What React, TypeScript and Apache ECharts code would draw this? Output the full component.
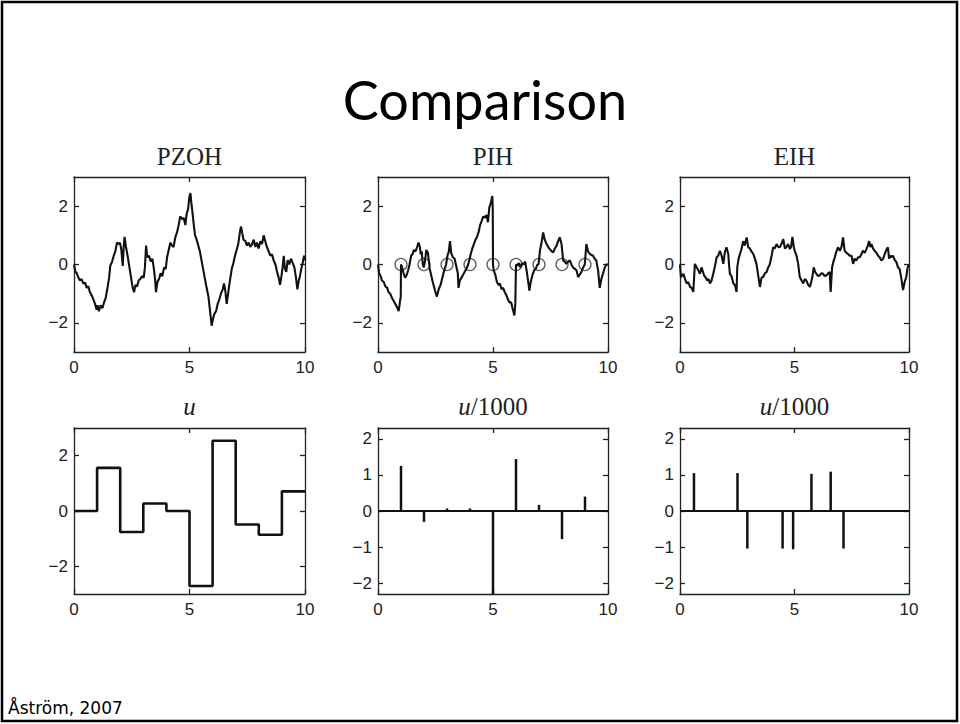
import React, { useEffect, useRef } from "react";
import * as echarts from "echarts";

// ---- Top row: sampled-output traces (x = time, y = output) ----
const pzohX = [0.00,0.06,0.12,0.19,0.26,0.33,0.40,0.48,0.55,0.62,0.69,0.76,0.84,0.91,0.98,1.02,1.08,1.15,1.23,1.30,1.37,1.44,1.52,1.57,1.65,1.72,1.79,1.86,1.93,1.99,2.05,2.11,2.15,2.19,2.25,2.32,2.40,2.47,2.54,2.60,2.66,2.73,2.80,2.87,2.94,3.02,3.07,3.12,3.17,3.25,3.32,3.39,3.45,3.51,3.55,3.61,3.68,3.75,3.82,3.90,3.97,4.03,4.10,4.17,4.24,4.31,4.39,4.46,4.53,4.60,4.68,4.75,4.82,4.88,4.94,4.99,5.04,5.08,5.12,5.18,5.24,5.31,5.38,5.45,5.53,5.60,5.67,5.74,5.82,5.89,5.96,6.02,6.07,6.15,6.22,6.29,6.36,6.44,6.49,6.55,6.61,6.68,6.75,6.83,6.90,6.97,7.04,7.11,7.19,7.23,7.29,7.34,7.42,7.49,7.56,7.63,7.71,7.78,7.85,7.92,7.99,8.07,8.14,8.21,8.28,8.35,8.43,8.50,8.57,8.64,8.72,8.79,8.86,8.92,8.98,9.03,9.08,9.13,9.19,9.25,9.32,9.39,9.47,9.54,9.61,9.67,9.73,9.78,9.84,9.90,9.96,10.0];
const pzohY = [0.0,-0.25,-0.3,-0.45,-0.55,-0.5,-0.65,-0.62,-0.8,-0.75,-0.95,-1.05,-1.2,-1.35,-1.55,-1.4,-1.6,-1.4,-1.5,-1.3,-1.15,-0.85,-0.45,-0.05,0.1,0.3,0.45,0.75,0.7,0.75,0.5,-0.05,0.6,0.95,0.6,0.3,-0.1,-0.45,-0.8,-0.95,-0.7,-0.75,-0.55,-0.5,-0.4,-0.45,-0.1,0.65,0.25,0.3,0.1,0.2,-0.1,-0.5,-0.95,-0.6,-0.5,-0.3,-0.4,-0.1,-0.15,0.25,0.5,0.75,0.65,0.6,0.95,1.1,1.35,1.65,1.55,1.6,1.35,1.75,1.9,2.3,2.45,2.1,1.85,1.4,1.0,0.85,0.65,0.45,0.1,-0.2,-0.5,-0.8,-1.1,-1.6,-2.1,-1.85,-1.7,-1.6,-1.35,-1.2,-1.0,-0.85,-0.65,-0.9,-1.35,-0.95,-0.55,-0.15,0.05,0.3,0.5,0.7,1.15,1.3,1.05,0.85,0.8,0.65,0.75,0.6,0.7,0.85,0.6,0.75,0.55,0.8,0.7,1.0,0.8,0.6,0.45,0.3,0.35,0.15,0.0,-0.25,-0.45,-0.7,-0.4,-0.1,0.3,-0.15,-0.25,0.15,0.0,0.2,0.05,-0.1,-0.45,-0.85,-0.55,-0.4,-0.15,0.05,0.3,0.15];

const pihX = [0.00,0.05,0.12,0.17,0.25,0.32,0.40,0.46,0.53,0.61,0.68,0.75,0.82,0.90,0.96,0.99,1.00,1.05,1.11,1.18,1.25,1.31,1.37,1.44,1.50,1.56,1.63,1.70,1.76,1.82,1.86,1.90,1.95,1.99,2.04,2.10,2.17,2.25,2.38,2.48,2.56,2.64,2.72,2.80,2.88,2.96,3.02,3.08,3.13,3.18,3.25,3.33,3.40,3.47,3.50,3.56,3.63,3.70,3.77,3.84,3.92,3.97,4.03,4.10,4.17,4.24,4.31,4.37,4.44,4.51,4.58,4.65,4.72,4.78,4.84,4.90,4.97,4.99,5.00,5.03,5.10,5.17,5.24,5.30,5.37,5.44,5.51,5.58,5.65,5.72,5.79,5.85,5.93,5.97,6.00,6.05,6.12,6.19,6.26,6.33,6.40,6.47,6.55,6.58,6.64,6.72,6.79,6.86,6.93,6.98,7.04,7.10,7.18,7.25,7.33,7.40,7.47,7.55,7.62,7.69,7.76,7.83,7.90,7.98,8.05,8.12,8.19,8.27,8.34,8.41,8.48,8.56,8.63,8.70,8.77,8.84,8.92,8.99,9.06,9.13,9.21,9.28,9.35,9.42,9.49,9.57,9.64,9.71,9.78,9.86,9.93,10.0];
const pihY = [0.0,-0.3,-0.4,-0.55,-0.6,-0.75,-0.8,-0.95,-1.0,-1.15,-1.25,-1.35,-1.45,-1.6,-1.25,-1.1,0.0,-0.1,-0.3,-0.45,-0.35,-0.2,0.0,0.3,0.35,0.5,0.45,0.6,0.75,0.6,0.35,0.45,0.0,-0.1,0.1,0.5,0.4,-0.15,-0.6,-0.9,-1.1,-0.85,-0.7,-0.45,-0.2,0.0,0.3,0.45,0.8,0.4,0.25,0.2,-0.05,-0.3,-0.8,-0.55,-0.45,-0.35,-0.25,-0.15,0.0,0.15,0.35,0.55,0.7,0.85,0.95,1.1,1.35,1.5,1.65,1.6,1.7,1.45,1.95,2.1,2.35,1.9,0.0,-0.2,-0.35,-0.6,-0.7,-0.65,-0.85,-0.8,-0.95,-1.05,-1.2,-1.3,-1.3,-1.5,-1.75,-1.35,0.0,-0.05,0.05,-0.1,0.05,0.0,0.1,-0.25,-0.7,-0.9,-0.6,-0.35,-0.2,-0.15,0.0,0.0,0.47,0.7,1.1,0.85,0.7,0.6,0.53,0.45,0.42,0.55,0.64,0.8,0.93,0.7,0.14,0.1,0.02,0.1,0.14,0.0,-0.1,-0.15,-0.2,-0.43,-0.35,-0.26,-0.1,0.0,0.7,0.45,0.36,0.33,0.3,0.2,0.14,-0.2,-0.8,-0.5,-0.32,-0.1,0.0,0.0];

const eihX = [0.00,0.04,0.15,0.22,0.29,0.36,0.44,0.51,0.58,0.65,0.73,0.80,0.87,0.94,1.05,1.12,1.19,1.25,1.31,1.38,1.45,1.53,1.60,1.67,1.74,1.82,1.89,1.96,2.03,2.11,2.14,2.18,2.25,2.33,2.40,2.47,2.50,2.56,2.62,2.69,2.76,2.83,2.91,2.98,3.05,3.12,3.20,3.27,3.34,3.42,3.49,3.56,3.63,3.71,3.78,3.85,3.92,4.00,4.07,4.14,4.22,4.29,4.36,4.43,4.51,4.58,4.65,4.72,4.80,4.85,4.91,4.97,5.01,5.09,5.16,5.23,5.31,5.38,5.45,5.52,5.60,5.67,5.73,5.78,5.84,5.90,5.96,6.03,6.10,6.18,6.25,6.32,6.40,6.47,6.54,6.58,6.64,6.70,6.76,6.83,6.90,6.98,7.05,7.12,7.19,7.27,7.34,7.41,7.49,7.56,7.63,7.70,7.78,7.85,7.92,7.99,8.07,8.14,8.20,8.26,8.31,8.36,8.43,8.50,8.58,8.65,8.72,8.79,8.87,8.94,9.01,9.08,9.13,9.19,9.24,9.30,9.38,9.45,9.52,9.59,9.67,9.74,9.81,9.88,9.94,10.0];
const eihY = [0.0,-0.43,-0.32,-0.5,-0.65,-0.6,-0.77,-0.8,-0.94,0.02,-0.1,-0.2,-0.32,-0.1,-0.37,-0.45,-0.55,-0.5,-0.65,-0.55,-0.32,-0.05,0.25,0.3,0.47,0.3,0.02,0.42,0.59,0.35,0.0,-0.32,-0.4,-0.65,-0.7,-0.94,-0.1,0.2,0.36,0.55,0.8,0.65,0.93,0.59,0.55,0.45,0.36,0.2,0.02,-0.4,-0.77,-0.45,-0.43,-0.3,-0.26,-0.1,0.0,0.3,0.59,0.55,0.7,0.6,0.59,0.7,0.87,0.55,0.6,0.7,0.53,0.6,0.95,0.6,0.47,0.3,0.02,-0.43,-0.55,-0.65,-0.5,-0.55,-0.7,-0.77,-0.6,-0.43,-0.1,-0.25,-0.32,-0.4,-0.37,-0.3,-0.32,-0.4,-0.37,-0.3,-0.26,-0.94,-0.1,0.1,0.25,0.45,0.59,0.47,0.6,0.93,0.47,0.4,0.36,0.3,0.3,0.02,0.2,0.14,0.25,0.25,0.35,0.47,0.4,0.53,0.65,0.8,0.6,0.7,0.55,0.47,0.4,0.3,0.25,0.14,0.2,0.36,0.5,0.59,0.2,0.3,0.25,0.3,0.15,0.08,-0.1,-0.15,-0.5,-0.88,-0.6,-0.43,-0.1,0.0];

const sampleTimes = [1, 2, 3, 4, 5, 6, 7, 8, 9];
const sampleMarks = [0, 0, 0, 0, 0, 0, 0, 0, 0];

// ---- Bottom row: control signals ----
const uTimes = [0, 1, 2, 3, 4, 5, 6, 7, 8, 9, 10];
const uValues = [0, 1.56, -0.76, 0.27, 0.0, -2.71, 2.54, -0.49, -0.86, 0.71, 0.71];
const pihImpulseTimes = [1, 2, 3, 4, 5, 6, 7, 8, 9];
const pihImpulseValues = [1.25, -0.3, 0.07, 0.07, -2.3, 1.44, 0.17, -0.78, 0.4];
const eihImpulseTimes = [0.61, 2.51, 2.94, 4.48, 4.94, 5.74, 6.58, 7.14];
const eihImpulseValues = [1.05, 1.05, -1.04, -1.04, -1.06, 1.03, 1.09, -1.04];
const baselineX = [0, 10];
const baselineY = [0, 0];

// ---- Texts and ticks ----
const mainTitle = "Comparison";
const footer = "Åström, 2007";
const panelTitles = ["PZOH", "PIH", "EIH", "u", "u/1000", "u/1000"];
const xTicks = [0, 5, 10];
const yTicksWide = [-2, 0, 2];
const yTicksImpulse = [-2, -1, 0, 1, 2];
const yRangeWide = [-3, 3];
const yRangeImpulse = [-2.3, 2.3];

const zip = (xs: number[], ys: number[]) => xs.map((x, i) => [x, ys[i]]);

const fmt = (v: number) => (v < 0 ? "\u2212" + Math.abs(v) : String(v));

export default function App() {
  const ref = useRef<HTMLDivElement>(null);

  useEffect(() => {
    if (!ref.current) return;
    const chart = echarts.init(ref.current, null, { renderer: "svg" });

    const lefts = [74, 378, 680];
    const widths = [231, 230, 229];
    const tops = [177, 428];
    const heights = [175, 166];
    const axisColor = "#222";
    const labelFont = { fontFamily: "Liberation Sans", fontSize: 17, color: "#222" };

    const grids: any[] = [];
    const xAxes: any[] = [];
    const yAxes: any[] = [];
    const yRanges = [yRangeWide, yRangeWide, yRangeWide, yRangeWide, yRangeImpulse, yRangeImpulse];
    const yTicksList = [yTicksWide, yTicksWide, yTicksWide, yTicksWide, yTicksImpulse, yTicksImpulse];

    for (let p = 0; p < 6; p++) {
      const col = p % 3;
      const row = Math.floor(p / 3);
      grids.push({ left: lefts[col], top: tops[row], width: widths[col], height: heights[row], containLabel: false });
      const lineStyle = { color: axisColor, width: 1.3 };
      for (const pos of ["bottom", "top"]) {
        xAxes.push({
          type: "value",
          gridIndex: p,
          position: pos,
          min: 0,
          max: 10,
          axisLine: { show: true, onZero: false, lineStyle },
          axisTick: { show: true, inside: true, length: 5, customValues: xTicks, lineStyle },
          axisLabel: { show: pos === "bottom", customValues: xTicks, margin: 7, formatter: fmt, ...labelFont },
          splitLine: { show: false },
        });
      }
      for (const pos of ["left", "right"]) {
        yAxes.push({
          type: "value",
          gridIndex: p,
          position: pos,
          min: yRanges[p][0],
          max: yRanges[p][1],
          axisLine: { show: true, onZero: false, lineStyle },
          axisTick: { show: true, inside: true, length: 5, customValues: yTicksList[p], lineStyle },
          axisLabel: { show: pos === "left", customValues: yTicksList[p], margin: 6, formatter: fmt, ...labelFont },
          splitLine: { show: false },
        });
      }
    }

    const ax = (p: number) => ({ xAxisIndex: 2 * p, yAxisIndex: 2 * p });
    const traceStyle = { color: "#111", width: 2.1 };

    const series: any[] = [
      { type: "line", ...ax(0), data: zip(pzohX, pzohY), showSymbol: false, lineStyle: traceStyle, itemStyle: { color: "#111" } },
      { type: "line", ...ax(1), data: zip(pihX, pihY), showSymbol: false, lineStyle: traceStyle, itemStyle: { color: "#111" } },
      {
        type: "scatter", ...ax(1), data: zip(sampleTimes, sampleMarks), symbol: "circle", symbolSize: 12,
        itemStyle: { color: "rgba(0,0,0,0)", borderColor: "#333", borderWidth: 1.3 },
      },
      { type: "line", ...ax(2), data: zip(eihX, eihY), showSymbol: false, lineStyle: traceStyle, itemStyle: { color: "#111" } },
      { type: "line", ...ax(3), data: zip(uTimes, uValues), step: "end", showSymbol: false, lineStyle: { color: "#111", width: 2.6 }, itemStyle: { color: "#111" } },
      { type: "line", ...ax(4), data: zip(baselineX, baselineY), showSymbol: false, lineStyle: { color: "#111", width: 2.2 }, itemStyle: { color: "#111" } },
      { type: "bar", ...ax(4), data: zip(pihImpulseTimes, pihImpulseValues), barWidth: 2.5, itemStyle: { color: "#111" } },
      { type: "line", ...ax(5), data: zip(baselineX, baselineY), showSymbol: false, lineStyle: { color: "#111", width: 2.2 }, itemStyle: { color: "#111" } },
      { type: "bar", ...ax(5), data: zip(eihImpulseTimes, eihImpulseValues), barWidth: 2.5, itemStyle: { color: "#111" } },
    ];

    const titleFont = "Liberation Serif";
    const graphic: any[] = [
      { type: "rect", shape: { x: 2, y: 2, width: 955, height: 719 }, style: { fill: "none", stroke: "#000", lineWidth: 2.5 }, silent: true },
      {
        type: "text", x: 485, y: 99,
        style: { text: mainTitle, fontFamily: "Lato", fontSize: 54, fill: "#000", textAlign: "center", textVerticalAlign: "middle" },
      },
      {
        type: "text", x: 8, y: 708,
        style: { text: footer, fontFamily: "DejaVu Sans", fontSize: 17, fill: "#000", textAlign: "left", textVerticalAlign: "middle" },
      },
    ];
    for (let p = 0; p < 6; p++) {
      const col = p % 3;
      const row = Math.floor(p / 3);
      const cx = lefts[col] + widths[col] / 2;
      const cy = row === 0 ? 156 : 406;
      const t = panelTitles[p];
      if (t.startsWith("u")) {
        graphic.push({
          type: "text", x: cx, y: cy,
          style: {
            text: "{i|u}" + t.slice(1),
            rich: { i: { fontStyle: "italic", fontFamily: titleFont, fontSize: 25, fill: "#222" } },
            fontFamily: titleFont, fontSize: 25, fill: "#222", textAlign: "center", textVerticalAlign: "middle",
          },
        });
      } else {
        graphic.push({
          type: "text", x: cx, y: cy,
          style: { text: t, fontFamily: titleFont, fontSize: 25, fill: "#222", textAlign: "center", textVerticalAlign: "middle" },
        });
      }
    }

    chart.setOption({
      animation: false,
      backgroundColor: "#fff",
      grid: grids,
      xAxis: xAxes,
      yAxis: yAxes,
      series,
      graphic,
    });

    return () => chart.dispose();
  }, []);

  return <div ref={ref} style={{ position: "absolute", left: 0, top: 0, width: 960, height: 724 }} />;
}
